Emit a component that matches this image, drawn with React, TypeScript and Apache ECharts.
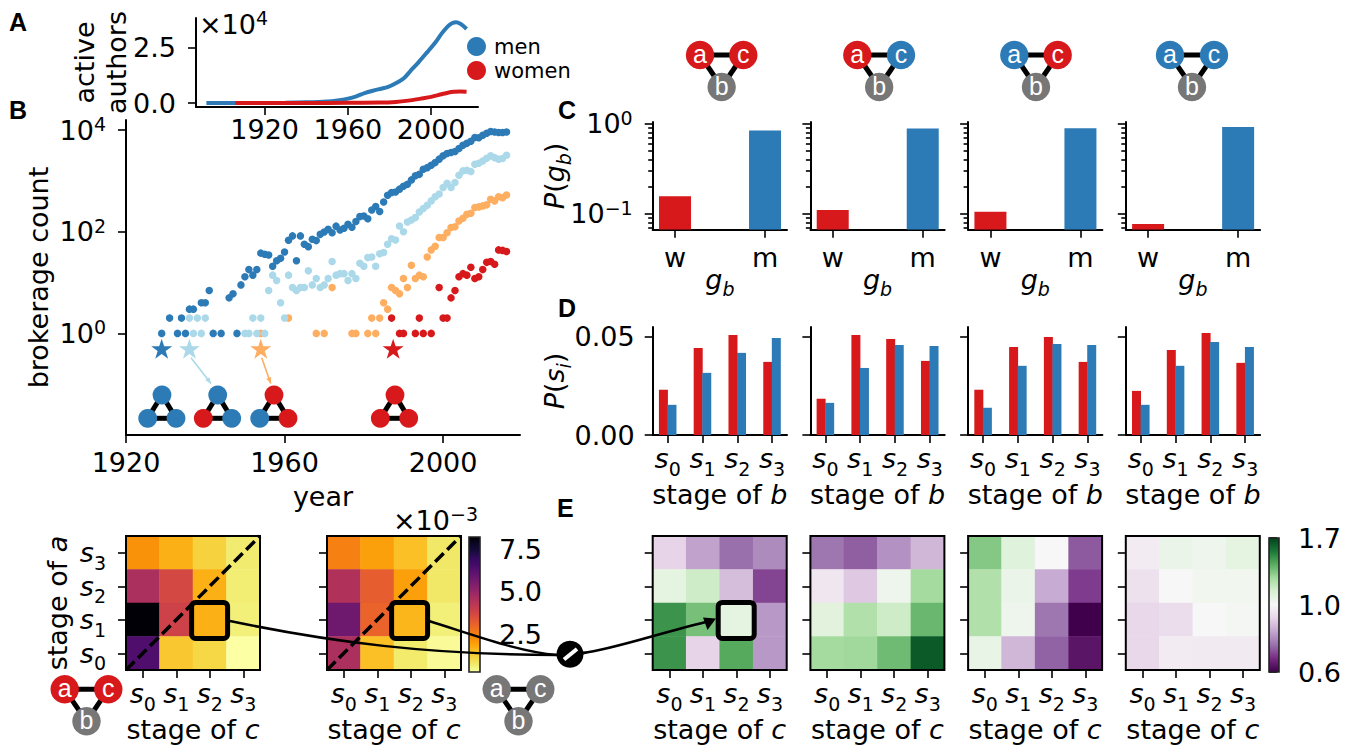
import React, { useEffect, useRef } from "react";
import * as echarts from "echarts";

const BLUE = "#2c7bb6", LIGHT = "#abd9e9", ORANGE = "#fdae61", RED = "#d7191c", GREY = "#777777";
const FONT = "DejaVu Sans";

const menAuthors = [[1892,0],[1900,0],[1910,0.002],[1920,0.005],[1930,0.01],[1940,0.03],[1950,0.07],[1955,0.12],[1960,0.2],[1964,0.3],[1968,0.45],[1972,0.56],[1976,0.65],[1979,0.72],[1983,0.9],[1987,1.14],[1990,1.45],[1994,1.86],[1998,2.3],[2002,2.75],[2005,3.15],[2008,3.48],[2010,3.62],[2012,3.67],[2014,3.6],[2016,3.45],[2017,3.36]];
const womenAuthors = [[1906,0],[1920,0.001],[1940,0.003],[1960,0.01],[1975,0.02],[1983,0.05],[1989,0.11],[1995,0.2],[2000,0.28],[2005,0.4],[2008,0.47],[2011,0.51],[2014,0.52],[2017,0.51]];
const yearTicksA = [1920, 1960, 2000];
const yearTicksB = [1920, 1960, 2000];
const countTicks = [1, 100, 10000];

const brokerAll = [[1929,1],[1931,2],[1933,1],[1934,2],[1935,1],[1936,3],[1937,3],[1939,4],[1940,4],[1941,7],[1942,1],[1944,1],[1946,5],[1947,6],[1948,1],[1949,9],[1950,13],[1951,18],[1952,14],[1953,18],[1954,38],[1955,36],[1956,35],[1957,21],[1958,27],[1959,30],[1960,40],[1961,68],[1962,83],[1963,27],[1964,83],[1965,57],[1966,51],[1967,71],[1968,67],[1969,89],[1970,99],[1971,112],[1972,96],[1973,129],[1974,108],[1975,117],[1976,141],[1977,123],[1978,159],[1979,199],[1980,205],[1981,181],[1982,269],[1983,314],[1984,250],[1985,386],[1986,524],[1987,590],[1988,608],[1989,690],[1990,785],[1991,864],[1992,1050],[1993,1260],[1994,1350],[1995,1700],[1996,1830],[1997,2040],[1998,2300],[1999,2690],[2000,3120],[2001,3470],[2002,3630],[2003,3800],[2004,4370],[2005,5020],[2006,5500],[2007,6070],[2008,7180],[2009,7080],[2010,7950],[2011,8710],[2012,9390],[2013,9200],[2014,9000],[2015,9000],[2016,9200]];
const brokerMixedA = [[1936,2],[1937,1],[1938,2],[1939,1],[1940,2],[1950,1],[1951,1],[1952,2],[1953,1],[1954,2],[1955,1],[1956,7],[1957,14],[1958,11],[1959,4],[1960,2],[1961,14],[1962,8],[1963,7],[1964,8],[1965,8],[1966,17],[1967,9],[1968,12],[1969,8],[1970,9],[1971,12],[1972,26],[1973,14],[1974,15],[1975,15],[1976,11],[1977,15],[1978,12],[1979,24],[1980,21],[1981,31],[1982,32],[1983,21],[1984,37],[1985,39],[1986,57],[1987,73],[1988,69],[1989,130],[1990,100],[1991,156],[1992,171],[1993,190],[1994,245],[1995,286],[1996,331],[1997,405],[1998,490],[1999,556],[2000,741],[2001,904],[2002,741],[2003,930],[2004,1300],[2005,1580],[2006,1630],[2007,1530],[2008,2140],[2009,2240],[2010,2480],[2011,2800],[2012,3120],[2013,2880],[2014,2690],[2015,2760],[2016,3210]];
const brokerMixedB = [[1954,1],[1961,2],[1968,1],[1970,1],[1972,8],[1977,1],[1978,1],[1981,1],[1982,2],[1983,1],[1984,2],[1985,4],[1986,3],[1987,8],[1988,7],[1989,6],[1990,12],[1991,8],[1992,22],[1993,12],[1994,14],[1995,13],[1996,32],[1997,44],[1998,52],[1999,77],[2000,77],[2001,96],[2002,121],[2003,126],[2004,163],[2005,185],[2006,221],[2007,231],[2008,300],[2009,309],[2010,323],[2011,339],[2012,437],[2013,405],[2014,490],[2015,468],[2016,531]];
const brokerWomen = [[1987,2],[1989,1],[1990,1],[1993,1],[1994,2],[1995,1],[1997,1],[1999,8],[2000,2],[2001,2],[2002,5],[2003,7],[2004,13],[2005,15],[2006,14],[2007,20],[2008,12],[2009,13],[2010,18],[2011,25],[2012,26],[2013,23],[2014,44],[2015,43],[2016,41]];
const starYears = [1929, 1936, 1954, 1987.4];
const starLevel = 0.5;

const genderLabels = ["w", "m"];
const genderProb = [[0.157, 0.843], [0.11, 0.89], [0.105, 0.895], [0.077, 0.923]];
const logMajor = [0.1, 1];
const logMinor = [0.07, 0.08, 0.09, 0.2, 0.3, 0.4, 0.5, 0.6, 0.7, 0.8, 0.9];

const stageLabels = ["s0", "s1", "s2", "s3"];
const stageProbWomen = [[0.0231,0.0444,0.051,0.0373],[0.0185,0.051,0.049,0.0378],[0.0231,0.0449,0.05,0.0373],[0.0225,0.0434,0.052,0.0368]];
const stageProbMen = [[0.0154,0.0317,0.0419,0.0495],[0.0164,0.0342,0.0459,0.0454],[0.0139,0.0353,0.0464,0.0459],[0.0154,0.0353,0.0475,0.0449]];
const probTicks = [0, 0.05];

// rows listed from s3 (top) to s0 (bottom)
const heatWomen = [[2.2,1.72,1.17,0.7],[4.57,3.7,1.72,0.66],[8.2,3.86,1.72,0.62],[6.38,1.37,1.09,0.3]];
const heatAll = [[2.5,1.96,1.49,0.77],[4.49,3.2,1.96,0.77],[5.75,3.06,1.64,0.62],[4.57,1.49,0.73,0.38]];
const ratio1 = [[0.92,0.836,0.76,0.8],[1.085,1.17,0.88,0.71],[1.49,1.365,1.085,0.82],[1.49,0.92,1.43,0.82]];
const ratio2 = [[0.77,0.74,0.81,0.87],[0.96,0.9,1.04,1.28],[1.1,1.25,1.17,1.39],[1.28,1.29,1.38,1.64]];
const ratio3 = [[1.34,1.11,1.0,0.735],[1.25,1.055,0.85,0.7],[1.25,1.04,0.77,0.6],[1.07,0.87,0.745,0.64]];
const ratio4 = [[0.975,1.055,1.04,1.085],[0.95,1.0,1.03,1.03],[0.93,0.94,1.0,1.015],[0.93,0.975,0.97,0.97]];
const cbarHeatTicks = [2.5, 5.0, 7.5];
const cbarRatioTicks = [0, 0.5, 1];
const cbarRatioLabels = ["0.6", "1.0", "1.7"];

const INFERNO = ["#000004","#0b0724","#160b39","#2f0a5b","#420a68","#57106e","#6a176e","#7f1e6c","#932667","#a82e5f","#bc3754","#cc4248","#dd513a","#ea632a","#f37819","#f98e09","#fca50a","#fac127","#f6d746","#f1ed71","#fcffa4"];
const PRGN = ["#40004b","#762a83","#9970ab","#c2a5cf","#e7d4e8","#f7f7f7","#d9f0d3","#a6dba0","#5aae61","#1b7837","#00441b"];
const HEAT_MIN = 0.29, HEAT_MAX = 8.22;

const heatNorm = (v: number) => (v - HEAT_MIN) / (HEAT_MAX - HEAT_MIN);
const ratioNorm = (v: number) => (v < 1 ? (v - 0.6) / 0.8 : 0.5 + (v - 1) / 1.4);
const INFERNO_R = [...INFERNO].reverse();

const sRich = {
  i: { fontFamily: FONT, fontStyle: "italic", fontSize: 27, color: "#000", lineHeight: 39 },
  u: { fontFamily: FONT, fontStyle: "italic", fontSize: 19, color: "#000", verticalAlign: "bottom", lineHeight: 19 },
  n: { fontFamily: FONT, fontSize: 19, color: "#000", verticalAlign: "bottom", lineHeight: 19 },
  t: { fontFamily: FONT, fontSize: 27, color: "#000", lineHeight: 39 },
};
const pRich = {
  b: { fontFamily: FONT, fontSize: 27, color: "#000", lineHeight: 31 },
  p: { fontFamily: FONT, fontSize: 19, color: "#000", verticalAlign: "top", lineHeight: 19 },
};
const fmtStage = (k: number) => `{i|s}{n|${k}}`;
const fmtPow = (v: number) => `{b|10}{p|${String(Math.round(Math.log10(v))).replace("-", "−")}}`;

const TICK = (vals?: any[], length = 8) => ({
  show: true, length, inside: false, alignWithLabel: true,
  lineStyle: { color: "#000", width: 1.6 },
  ...(vals ? { customValues: vals } : {}),
});
const LINE = { show: true, onZero: false, lineStyle: { color: "#000", width: 2 } };
const NOLABEL = { show: false };

const PANEL_X = [652.7, 810.4, 968.1, 1125.8];

function buildOption() {
  const grid: any[] = [], xAxis: any[] = [], yAxis: any[] = [], series: any[] = [], graphic: any[] = [], visualMap: any[] = [];
  let zc = 100;
  const g = (e: any) => graphic.push({ z: zc++, silent: true, ...e });
  const addGrid = (left: number, top: number, width: number, height: number) => {
    grid.push({ left, top, width, height, containLabel: false, outerBoundsMode: "none", show: false });
    return grid.length - 1;
  };
  const addX = (o: any) => { xAxis.push({ nameMoveOverlap: false, splitLine: { show: false }, axisLine: LINE, ...o }); return xAxis.length - 1; };
  const addY = (o: any) => { yAxis.push({ nameMoveOverlap: false, splitLine: { show: false }, axisLine: LINE, ...o }); return yAxis.length - 1; };
  const text = (t: string, x: number, y: number, o: any = {}) =>
    g({ type: "text", style: { text: t, x, y, fontFamily: FONT, fontSize: 27, fill: "#000", align: "left", verticalAlign: "middle", ...o } });

  // Panel A
  {
    const gi = addGrid(196, 18, 282, 89);
    const xi = addX({ gridIndex: gi, type: "value", min: 1887, max: 2022.5, axisTick: TICK(yearTicksA),
      axisLabel: { customValues: yearTicksA, formatter: (v: number) => String(v), fontFamily: FONT, fontSize: 27, color: "#000", margin: 9 } });
    const yi = addY({ gridIndex: gi, type: "value", min: -0.18, max: 3.86, axisTick: TICK([0, 2.5]),
      axisLabel: { customValues: [0, 2.5], formatter: (v: number) => v.toFixed(1), fontFamily: FONT, fontSize: 27, color: "#000", margin: 20 },
      name: "active\nauthors", nameLocation: "middle", nameGap: 64, nameRotate: 90,
      nameTextStyle: { fontFamily: FONT, fontSize: 27, color: "#000", lineHeight: 32 } });
    series.push({ type: "line", name: "men", xAxisIndex: xi, yAxisIndex: yi, data: menAuthors, showSymbol: false, smooth: 0.3,
      itemStyle: { color: BLUE }, lineStyle: { color: BLUE, width: 4 } });
    series.push({ type: "line", name: "women", xAxisIndex: xi, yAxisIndex: yi, data: womenAuthors, showSymbol: false, smooth: 0.3,
      itemStyle: { color: RED }, lineStyle: { color: RED, width: 4 } });
    g({ type: "text", style: { text: "{b|×10}{p|4}", x: 199, y: 24, rich: pRich, align: "left", verticalAlign: "middle" } });
  }

  // Panel B
  {
    const gi = addGrid(126, 120, 394, 315);
    const xi = addX({ gridIndex: gi, type: "value", min: 1920, max: 2019.4, axisTick: TICK(yearTicksB),
      axisLabel: { customValues: yearTicksB, formatter: (v: number) => String(v), fontFamily: FONT, fontSize: 27, color: "#000", margin: 14 },
      name: "year", nameLocation: "middle", nameGap: 48, nameTextStyle: { fontFamily: FONT, fontSize: 27, color: "#000" } });
    const yi = addY({ gridIndex: gi, type: "log", min: 0.01, max: 15849, axisTick: TICK(countTicks),
      axisLabel: { customValues: countTicks, formatter: fmtPow, rich: pRich, margin: 20 },
      name: "brokerage count", nameLocation: "middle", nameGap: 74, nameRotate: 90,
      nameTextStyle: { fontFamily: FONT, fontSize: 27, color: "#000" } });
    const dots = (data: number[][], color: string) =>
      series.push({ type: "scatter", xAxisIndex: xi, yAxisIndex: yi, data, symbol: "circle", symbolSize: 7.5, itemStyle: { color, opacity: 1 }, clip: false });
    dots(brokerWomen, RED); dots(brokerMixedB, ORANGE); dots(brokerMixedA, LIGHT); dots(brokerAll, BLUE);
    const starColors = [BLUE, LIGHT, ORANGE, RED];
    series.push({ type: "scatter", xAxisIndex: xi, yAxisIndex: yi,
      data: starYears.map((y, i) => ({ value: [y, starLevel], itemStyle: { color: starColors[i], opacity: 1 } })),
      symbol: "path://M50,0 L61.8,36.3 L100,36.3 L69.1,58.8 L80.9,95.1 L50,72.6 L19.1,95.1 L30.9,58.8 L0,36.3 L38.2,36.3 Z",
      symbolSize: 21, symbolKeepAspect: true });
  }

  const triad = (top: number[], left: number[], right: number[], r: number, w: number, ca: string, cb: string, cc: string) => {
    const ln = (p: number[], q: number[]) => g({ type: "line", shape: { x1: p[0], y1: p[1], x2: q[0], y2: q[1] }, style: { stroke: "#000", lineWidth: w } });
    ln(top, left); ln(top, right); ln(left, right);
    [[top, ca], [left, cb], [right, cc]].forEach(([p, c]: any) =>
      g({ type: "circle", shape: { cx: p[0], cy: p[1], r }, style: { fill: c } }));
  };
  triad([162, 395], [147.7, 418.3], [176, 418.3], 9.4, 5, BLUE, BLUE, BLUE);
  triad([217.7, 395], [203.3, 418.3], [231.7, 418.3], 9.4, 5, BLUE, RED, BLUE);
  triad([274, 395], [259.7, 418.3], [288, 418.3], 9.4, 5, RED, BLUE, RED);
  triad([395, 395], [380.3, 418.3], [408.7, 418.3], 9.4, 5, RED, RED, RED);

  const arrow = (x1: number, y1: number, x2: number, y2: number, c: string) => {
    g({ type: "line", shape: { x1, y1, x2, y2 }, style: { stroke: c, lineWidth: 1.6 } });
    const a = Math.atan2(y2 - y1, x2 - x1), s = 6, h = 2.6;
    const bx = x2 - s * Math.cos(a), by = y2 - s * Math.sin(a);
    g({ type: "polygon", shape: { points: [[x2, y2], [bx - h * Math.sin(a), by + h * Math.cos(a)], [bx + h * Math.sin(a), by - h * Math.cos(a)]] }, style: { fill: c } });
  };
  arrow(191, 357.7, 211, 383.5, LIGHT);
  arrow(261.7, 357.7, 270.7, 383.5, ORANGE);

  // Panels C and D
  PANEL_X.forEach((px, i) => {
    const gc = addGrid(px, 122, 134.3, 107.7);
    const xc = addX({ gridIndex: gc, type: "value", min: -0.248, max: 1.244, axisTick: TICK([0, 1]),
      axisLabel: { customValues: [0, 1], formatter: (v: number) => genderLabels[v], fontFamily: FONT, fontSize: 27, color: "#000", margin: 14 },
      name: "{i|g}{u|b}", nameLocation: "middle", nameGap: 30, nameTextStyle: { rich: sRich } });
    const yc = addY({ gridIndex: gc, type: "log", min: 0.0664, max: 1.05, axisTick: TICK(logMajor),
      axisLabel: i === 0 ? { customValues: logMajor, formatter: fmtPow, rich: pRich, margin: 20 } : NOLABEL,
      ...(i === 0 ? { name: "{i|P}{t|(}{i|g}{u|b}{t|)}", nameLocation: "middle", nameGap: 79, nameRotate: 90, nameTextStyle: { rich: sRich } } : {}) });
    addY({ gridIndex: gc, type: "log", min: 0.0664, max: 1.05, position: "left", axisLine: { show: false, onZero: false }, axisTick: TICK(logMinor, 4.5), axisLabel: NOLABEL });
    const barColors = [RED, BLUE];
    series.push({ type: "custom", xAxisIndex: xc, yAxisIndex: yc, clip: true, encode: { x: 0, y: 1 },
      data: genderProb[i].map((v, k) => [k, v]),
      renderItem: (p: any, api: any) => {
        const top = api.coord([api.value(0), api.value(1)]);
        const bottom = p.coordSys.y + p.coordSys.height;
        return { type: "rect", shape: { x: top[0] - 16, y: top[1], width: 32, height: bottom - top[1] },
          style: { fill: barColors[api.value(0)] } };
      } });

    const gd = addGrid(px, 327, 134.3, 108);
    const xd = addX({ gridIndex: gd, type: "value", min: -0.431, max: 3.43, axisTick: TICK([0, 1, 2, 3]),
      axisLabel: { customValues: [0, 1, 2, 3], formatter: (v: number) => fmtStage(v), rich: sRich, margin: 4 },
      name: "stage of {i|b}", nameLocation: "middle", nameGap: 40, nameTextStyle: { fontFamily: FONT, fontSize: 27, color: "#000", rich: sRich } });
    const yd = addY({ gridIndex: gd, type: "value", min: 0, max: 0.0551, axisTick: TICK(probTicks),
      axisLabel: i === 0 ? { customValues: probTicks, formatter: (v: number) => v.toFixed(2), fontFamily: FONT, fontSize: 27, color: "#000", margin: 18 } : NOLABEL,
      ...(i === 0 ? { name: "{i|P}{t|(}{i|s}{u|i}{t|)}", nameLocation: "middle", nameGap: 79, nameRotate: 90, nameTextStyle: { rich: sRich } } : {}) });
    const toPts = (arr: number[]) => arr.map((v, k) => [k, v]);
    series.push({ type: "bar", xAxisIndex: xd, yAxisIndex: yd, barWidth: 9, barGap: "-5%", itemStyle: { color: RED }, data: toPts(stageProbWomen[i]) });
    series.push({ type: "bar", xAxisIndex: xd, yAxisIndex: yd, barWidth: 9, barGap: "-5%", itemStyle: { color: BLUE }, data: toPts(stageProbMen[i]) });
  });

  // Heatmaps
  const heat = (left: number, rows: number[][], norm: (v: number) => number, colors: string[], first: boolean) => {
    const gi = addGrid(left, 536, 134, 134);
    const xi = addX({ gridIndex: gi, type: "category", data: stageLabels, axisTick: TICK(), axisLine: { show: false },
      axisLabel: { interval: 0, formatter: (_: string, k: number) => fmtStage(k), rich: sRich, margin: 4 },
      name: "stage of {i|c}", nameLocation: "middle", nameGap: 40, nameTextStyle: { fontFamily: FONT, fontSize: 27, color: "#000", rich: sRich } });
    const yi = addY({ gridIndex: gi, type: "category", data: stageLabels, axisTick: TICK(), axisLine: { show: false },
      axisLabel: first ? { interval: 0, formatter: (_: string, k: number) => fmtStage(k), rich: sRich, margin: 20 } : NOLABEL,
      ...(first ? { name: "stage of {i|a}", nameLocation: "middle", nameGap: 49, nameRotate: 90, nameTextStyle: { fontFamily: FONT, fontSize: 27, color: "#000", rich: sRich } } : {}) });
    const data: number[][] = [];
    rows.forEach((row, r) => row.forEach((v, c) => data.push([c, 3 - r, v, norm(v)])));
    series.push({ type: "heatmap", xAxisIndex: xi, yAxisIndex: yi, data });
    visualMap.push({ type: "continuous", show: false, seriesIndex: series.length - 1, dimension: 3, min: 0, max: 1, inRange: { color: colors } });
    g({ type: "rect", shape: { x: left, y: 536, width: 134, height: 134 }, style: { fill: "none", stroke: "#000", lineWidth: 2 } });
  };
  heat(126, heatWomen, heatNorm, INFERNO_R, true);
  heat(327, heatAll, heatNorm, INFERNO_R, false);
  heat(652.7, ratio1, ratioNorm, PRGN, false);
  heat(810.4, ratio2, ratioNorm, PRGN, false);
  heat(968.1, ratio3, ratioNorm, PRGN, false);
  heat(1125.8, ratio4, ratioNorm, PRGN, false);

  // Colour bars
  const cbar = (left: number, top: number, w: number, h: number, colors: string[], ymin: number, ymax: number, ticks: number[], fmt: (v: number) => string) => {
    const gi = addGrid(left, top, w, h);
    const xi = addX({ gridIndex: gi, type: "value", show: false, min: 0, max: 1 });
    const yi = addY({ gridIndex: gi, type: "value", position: "right", min: ymin, max: ymax, axisLine: { show: false }, axisTick: TICK(ticks),
      axisLabel: { customValues: ticks, formatter: fmt, fontFamily: FONT, fontSize: 27, color: "#000", margin: 19 } });
    const stops = colors.map((color, k) => ({ offset: k / (colors.length - 1), color }));
    series.push({ type: "custom", xAxisIndex: xi, yAxisIndex: yi, data: [[0, ymin]], silent: true,
      renderItem: (p: any) => ({ type: "rect", shape: { x: p.coordSys.x, y: p.coordSys.y, width: p.coordSys.width, height: p.coordSys.height },
        style: { fill: new echarts.graphic.LinearGradient(0, 0, 0, 1, stops) } }) });
    g({ type: "rect", shape: { x: left, y: top, width: w, height: h }, style: { fill: "none", stroke: "#222", lineWidth: 1.6 } });
  };
  cbar(469, 537, 11, 135, INFERNO, HEAT_MIN, HEAT_MAX, cbarHeatTicks, (v) => v.toFixed(1));
  cbar(1269, 538, 10, 134, [...PRGN].reverse(), 0, 1, cbarRatioTicks, (v) => cbarRatioLabels[Math.round(v * 2)]);
  g({ type: "text", style: { text: "{b|×10}{p|−3}", x: 393, y: 520, rich: pRich, align: "left", verticalAlign: "middle" } });

  // Diagonals
  [126, 327].forEach((l) => g({ type: "line", shape: { x1: l, y1: 670, x2: l + 134, y2: 536 }, style: { stroke: "#000", lineWidth: 3.5, lineDash: [12, 5] } }));

  // Highlights
  [[191.6, 602.4], [391.6, 602.4], [718.2, 602.4]].forEach(([x, y]) =>
    g({ type: "rect", shape: { x, y, width: 36, height: 36, r: 4 }, style: { fill: "none", stroke: "#000", lineWidth: 5 } }));
  const curve = (s: number[], lw: number) => g({ type: "bezierCurve", shape: { x1: s[0], y1: s[1], cpx1: s[2], cpy1: s[3], cpx2: s[4], cpy2: s[5], x2: s[6], y2: s[7] }, style: { stroke: "#000", fill: "none", lineWidth: lw } });
  curve([230, 621, 330, 642, 430, 655, 557, 655], 2.5);
  curve([429, 621, 480, 637, 520, 652, 557, 655], 2.5);
  curve([583, 653, 610, 650, 660, 633, 706, 622], 2.8);
  g({ type: "polygon", shape: { points: [[716, 618.5], [703, 617.5], [707.5, 630]] }, style: { fill: "#000" } });
  g({ type: "circle", shape: { cx: 570, cy: 654.3, r: 13.5 }, style: { fill: "#000" } });
  g({ type: "line", shape: { x1: 564, y1: 659.5, x2: 577, y2: 649 }, style: { stroke: "#fff", lineWidth: 4 } });

  // Labelled triads
  const abc = (ax: number, cx: number, y: number, ca: string, cc: string) => {
    const bx = (ax + cx) / 2, by = y + 32;
    const ln = (x1: number, y1: number, x2: number, y2: number) => g({ type: "line", shape: { x1, y1, x2, y2 }, style: { stroke: "#000", lineWidth: 5 } });
    ln(ax, y, cx, y); ln(ax, y, bx, by); ln(cx, y, bx, by);
    ([[ax, y, ca, "a"], [cx, y, cc, "c"], [bx, by, GREY, "b"]] as any[]).forEach(([x, yy, col, t]) => {
      g({ type: "circle", shape: { cx: x, cy: yy, r: 14.2 }, style: { fill: col } });
      g({ type: "text", style: { text: t, x, y: yy - 1, fontFamily: "Liberation Sans", fontSize: 25, fill: "#fff", align: "center", verticalAlign: "middle" } });
    });
  };
  abc(700, 743.3, 55, RED, RED);
  abc(857.3, 901, 55, RED, BLUE);
  abc(1014.3, 1057.7, 55, BLUE, RED);
  abc(1170, 1214, 55, BLUE, BLUE);
  abc(64.7, 108.3, 689.3, RED, RED);
  abc(496.7, 540.3, 689.3, GREY, GREY);

  // Panel letters
  ([["A", 9, 22], ["B", 9, 110], ["C", 558, 110], ["D", 558, 308], ["E", 557, 508]] as any[]).forEach(([t, x, y]) =>
    text(t, x, y, { fontFamily: "Liberation Sans", fontWeight: "bold", fontSize: 25 }));

  return {
    animation: false,
    backgroundColor: "#fff",
    legend: { data: ["men", "women"], left: 462, top: 31, orient: "vertical", icon: "circle", itemWidth: 19, itemHeight: 19, itemGap: 3,
      selectedMode: false, textStyle: { fontFamily: FONT, fontSize: 21, color: "#000", padding: [0, 0, 0, 3] } },
    visualMap, grid, xAxis, yAxis, series, graphic: { elements: graphic },
  };
}

export default function App() {
  const ref = useRef<HTMLDivElement>(null);
  useEffect(() => {
    document.body.style.margin = "0";
    const chart = echarts.init(ref.current!, undefined, { renderer: "svg" });
    chart.setOption(buildOption() as any);
    return () => chart.dispose();
  }, []);
  return <div ref={ref} style={{ position: "absolute", left: 0, top: 0, width: 1353, height: 745, overflow: "hidden" }} />;
}
